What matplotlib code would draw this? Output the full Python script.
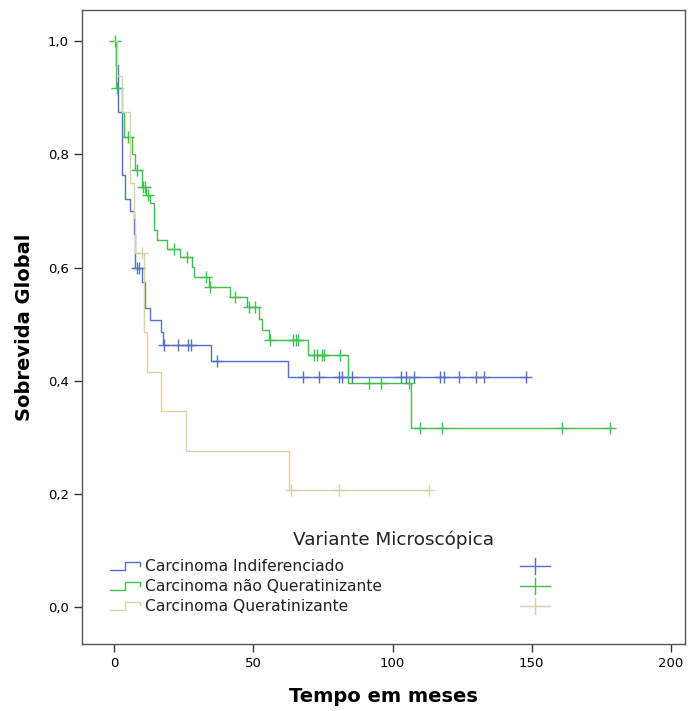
import numpy as np
import matplotlib
matplotlib.use("Agg")
import matplotlib.pyplot as plt

# Kaplan-Meier curves: event times / survival after each drop
ind_t = [0, 0.5, 1.5, 2.8, 4.0, 5.8, 7.0, 7.6, 10.0, 11.2, 13.0, 16.8, 17.7, 34.9, 62.5]
ind_s = [1.0, 0.958, 0.875, 0.763, 0.722, 0.70, 0.66, 0.60, 0.575, 0.528, 0.507, 0.486, 0.463, 0.435, 0.407]
ind_cens = [8.2, 9.0, 17.9, 22.9, 26.5, 27.6, 36.9, 67.8, 73.7, 80.6, 81.7, 85.3,
            103.0, 105.0, 107.8, 117.0, 118.5, 124.0, 130.0, 133.0, 148.0]

nq_t = [0, 0.5, 2.8, 3.6, 6.4, 7.6, 10.0, 11.5, 13.0, 14.2, 15.3, 18.9, 23.7, 27.9, 28.8,
        34.0, 41.7, 47.7, 52.0, 53.0, 55.5, 69.5, 84.0, 106.8]
nq_s = [1.0, 0.917, 0.873, 0.831, 0.80, 0.772, 0.743, 0.728, 0.714, 0.666, 0.648, 0.633, 0.618,
        0.601, 0.584, 0.565, 0.548, 0.53, 0.51, 0.49, 0.472, 0.445, 0.396, 0.316]
nq_cens = [0.3, 1.1, 5.1, 8.3, 10.3, 11.0, 12.3, 21.4, 26.1, 33.1, 34.3, 43.5, 48.5, 50.5,
           56.1, 64.4, 65.2, 66.0, 71.8, 72.7, 74.5, 75.5, 81.0, 91.5, 95.7, 105.8,
           109.7, 117.6, 160.8, 178.0]

q_t = [0, 1.0, 3.0, 5.8, 7.0, 7.6, 10.8, 11.8, 16.8, 25.9, 62.7]
q_s = [1.0, 0.938, 0.875, 0.75, 0.688, 0.625, 0.486, 0.416, 0.347, 0.277, 0.208]
q_cens = [9.9, 63.6, 80.7, 113.0]

labels = ["Carcinoma Indiferenciado", "Carcinoma não Queratinizante", "Carcinoma Queratinizante"]
colors = ["#5470c6", "#3fbf4f", "#d9d2a4"]
curves = [(ind_t, ind_s, ind_cens), (nq_t, nq_s, nq_cens), (q_t, q_s, q_cens)]


def surv_at(t, s, x):
    idx = np.searchsorted(t, x, side="right") - 1
    return np.array(s)[idx]


fig = plt.figure(figsize=(6.96, 7.11), dpi=100)
ax = fig.add_axes([0.118, 0.094, 0.866, 0.892])

for (t, s, cens), col in zip(curves, colors):
    tend = max(max(t), max(cens))
    xs = list(t) + [tend]
    ys = list(s) + [s[-1]]
    ax.step(xs, ys, where="post", color=col, lw=1.0)
    ax.plot(cens, surv_at(t, s, cens), "+", color=col, ms=9, mew=1.0)

ax.set_xlim(-11.5, 205)
ax.set_ylim(-0.065, 1.055)
ax.set_xticks([0, 50, 100, 150, 200])
ax.set_yticks([0, 0.2, 0.4, 0.6, 0.8, 1.0])
ax.set_yticklabels(["0,0", "0,2", "0,4", "0,6", "0,8", "1,0"])
ax.tick_params(axis="both", labelsize=9.5, length=6, width=1, direction="out", color="#333333")
for sp in ax.spines.values():
    sp.set_linewidth(1)
    sp.set_color("#555555")

ax.set_xlabel("Tempo em meses", fontsize=14, fontweight="bold",
              family=["Liberation Sans Narrow", "DejaVu Sans"], labelpad=12)
ax.set_ylabel("Sobrevida Global", fontsize=14, fontweight="bold",
              family=["Liberation Sans Narrow", "DejaVu Sans"], labelpad=10)

# legend drawn by hand: step glyph, text, censor mark far right
tr = ax.transAxes
ax.text(0.516, 0.164, "Variante Microscópica", transform=tr, ha="center", va="center",
        fontsize=13.2, color="#222222")
ys_leg = [0.123, 0.0915, 0.060]
for lab, col, yl in zip(labels, colors, ys_leg):
    gx = [0.046, 0.071, 0.071, 0.0955, 0.0955]
    gy = [yl - 0.006, yl - 0.006, yl + 0.007, yl + 0.007, yl + 0.001]
    ax.plot(gx, gy, color=col, lw=1.0, transform=tr, clip_on=False)
    ax.text(0.1045, yl, lab, transform=tr, ha="left", va="center", fontsize=11.2, color="#222222")
    ax.plot([0.7265, 0.7765], [yl, yl], color=col, lw=1.0, transform=tr)
    ax.plot([0.7515, 0.7515], [yl - 0.0125, yl + 0.0125], color=col, lw=1.0, transform=tr)

fig.savefig("out.png", dpi=100)
